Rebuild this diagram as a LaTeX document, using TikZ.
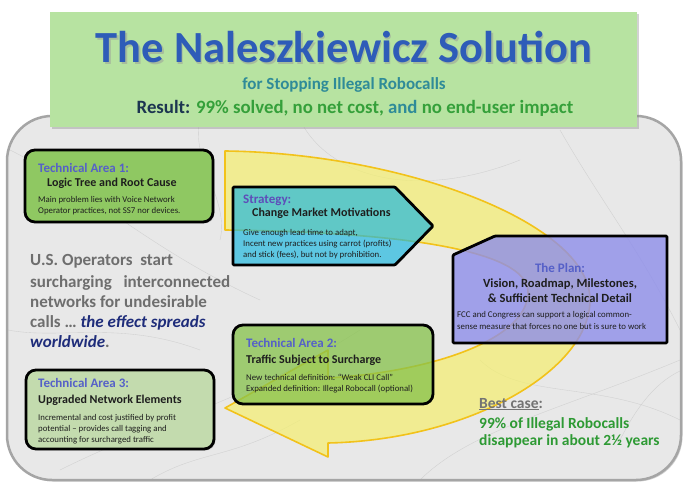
\documentclass[tikz,border=0pt]{standalone}
\usepackage{fontspec}
\setmainfont{Carlito}
\usetikzlibrary{shadows}
\newcommand\myfs[2]{\fontsize{#1}{#2}\selectfont}
\definecolor{marble}{HTML}{E8E8E8}
\definecolor{marbleedge}{HTML}{A5A5A5}
\definecolor{titlegreen}{HTML}{B7E3A1}
\definecolor{titleblue}{HTML}{2E5CB8}
\definecolor{subteal}{HTML}{2F8B98}
\definecolor{navy}{HTML}{1C3550}
\definecolor{resgreen}{HTML}{35A03A}
\definecolor{arrowyellow}{HTML}{F5EF6E}
\definecolor{arrowedge}{HTML}{F2C21A}
\definecolor{labelblue}{HTML}{5560C8}
\definecolor{ta1green}{HTML}{8FC862}
\definecolor{stratcyan}{HTML}{1CB8E0}
\definecolor{planlav}{HTML}{8E8EEA}
\definecolor{ta2green}{HTML}{86C24A}
\definecolor{ta3green}{HTML}{C3DBAE}
\definecolor{leftgray}{HTML}{6E6E6E}
\definecolor{spreadnavy}{HTML}{1E2C7A}
\definecolor{bestgreen}{HTML}{2E9A34}
\definecolor{bodyblack}{HTML}{1E1E1E}
\tikzset{
  boxline/.style={draw=black, line width=2.8pt, line join=round},
  vein/.style={draw=gray!50, line width=0.35pt, opacity=0.6},
  arealabel/.style={anchor=base west, inner sep=0pt, font=\myfs{13}{15}\bfseries, text=labelblue},
  areatitle/.style={anchor=base west, inner sep=0pt, font=\myfs{12}{14}\bfseries, text=bodyblack},
  areabody/.style={anchor=base west, inner sep=0pt, font=\myfs{8.8}{11}, text=bodyblack},
  lefttext/.style={anchor=base west, inner sep=0pt, font=\myfs{17}{20}\bfseries, text=leftgray},
  besttext/.style={anchor=base west, inner sep=0pt, font=\myfs{15.5}{18}\bfseries, text=bestgreen},
}
\begin{document}
\begin{tikzpicture}[x=1pt,y=-1pt]
\useasboundingbox (0,0) rectangle (695,494);
\fill[white] (0,0) rectangle (695,494);

% marble panel
\path[fill=marble, rounded corners=45pt, drop shadow={opacity=0.35, shadow xshift=1.5pt, shadow yshift=-1.5pt}] (7,116) rectangle (681,480);
\begin{scope}
  \clip[rounded corners=45pt] (7,116) rectangle (681,480);
  \draw[vein] (10,150) .. controls (90,190) and (150,250) .. (260,300);
  \draw[vein] (60,470) .. controls (160,420) and (250,400) .. (360,330);
  \draw[vein] (300,120) .. controls (330,180) and (420,200) .. (520,160);
  \draw[vein] (420,480) .. controls (470,430) and (560,410) .. (680,360);
  \draw[vein] (560,130) .. controls (600,200) and (640,250) .. (680,330);
  \draw[vein] (8,330) .. controls (60,340) and (120,320) .. (200,350);
  \draw[vein] (150,480) .. controls (200,450) and (230,460) .. (300,420);
  \draw[vein] (480,360) .. controls (520,400) and (600,380) .. (680,420);
  \draw[vein] (200,120) .. controls (190,160) and (230,200) .. (220,240);
  \draw[vein] (620,440) .. controls (640,400) and (660,380) .. (682,370);
\end{scope}
\path[draw=marbleedge, line width=2.5pt, rounded corners=45pt] (7,116) rectangle (681,480);

% title box
\path[fill=titlegreen, drop shadow={opacity=0.35, shadow xshift=2pt, shadow yshift=-2pt}] (50,12) rectangle (637,127);
\node[anchor=base, inner sep=0pt, font=\myfs{44.5}{50}\bfseries, text=black!40, opacity=0.5] (titleshadow) at (345.5,64.5) {The Naleszkiewicz Solution};
\node[anchor=base, inner sep=0pt, font=\myfs{44.5}{50}\bfseries, text=titleblue] (title) at (344,63) {The Naleszkiewicz Solution};
\node[anchor=base, inner sep=0pt, font=\myfs{17}{20}\bfseries, text=subteal] (subtitle) at (344,90) {for Stopping Illegal Robocalls};
\node[anchor=base, inner sep=0pt, font=\myfs{18.8}{22}\bfseries] (result) at (355,114) {\textcolor{navy}{Result:} \textcolor{resgreen}{99\% solved, no net cost,} \textcolor{subteal}{and} \textcolor{resgreen}{no end-user impact}};

% yellow circular arrow
\path[fill=arrowyellow, fill opacity=0.7, draw=arrowedge, line width=1.6pt, line join=round]
  (225,151) .. controls (400,153) and (590,222) .. (590,300)
  .. controls (590,370) and (470,440) .. (328,443)
  -- (328,457) -- (225,408) -- (328,350) -- (328,378)
  .. controls (430,372) and (528,340) .. (528,292)
  .. controls (528,250) and (400,232) .. (225,230) -- cycle;

% Technical Area 1
\path[boxline, fill=ta1green, rounded corners=10pt, drop shadow={opacity=0.3, shadow xshift=1.5pt, shadow yshift=-1.5pt}] (25,150) rectangle (213,222);
\node[arealabel] (ta1label) at (38,173) {Technical Area 1:};
\node[areatitle] (ta1title) at (47,187) {Logic Tree and Root Cause};
\node[areabody] (ta1b1) at (38,203) {Main problem lies with Voice Network};
\node[areabody] (ta1b2) at (38,214) {Operator practices, not SS7 nor devices.};

% Strategy
\path[boxline, fill=stratcyan, fill opacity=0.68, rounded corners=1pt] (233,187) -- (395,187) -- (433,226) -- (395,265) -- (233,265) -- cycle;
\node[arealabel, text=labelblue!80!violet] (stratlabel) at (243,204) {Strategy:};
\node[areatitle] (strattitle) at (252,217) {Change Market Motivations};
\node[areabody] (stratb1) at (243,235) {Give enough lead time to adapt,};
\node[areabody] (stratb2) at (243,246) {Incent new practices using carrot (profits)};
\node[areabody] (stratb3) at (243,257) {and stick (fees), but not by prohibition.};

% The Plan
\path[boxline, fill=planlav, fill opacity=0.8, rounded corners=1pt] (453,255) -- (495,236) -- (667,236) -- (667,343) -- (453,343) -- cycle;
\node[anchor=base, inner sep=0pt, font=\myfs{13}{15}\bfseries, text=labelblue] (planlabel) at (560,272) {The Plan:};
\node[anchor=base, inner sep=0pt, font=\myfs{12.5}{15}\bfseries, text=bodyblack] (plant1) at (560,287) {Vision, Roadmap, Milestones,};
\node[anchor=base, inner sep=0pt, font=\myfs{12.5}{15}\bfseries, text=bodyblack] (plant2) at (560,302) {\& Sufficient Technical Detail};
\node[areabody] (planb1) at (457,317) {FCC and Congress can support a logical common-};
\node[areabody] (planb2) at (457,329) {sense measure that forces no one but is sure to work};

% Technical Area 2
\path[boxline, fill=ta2green, fill opacity=0.75, rounded corners=10pt] (233,325) rectangle (433,404);
\node[arealabel] (ta2label) at (246,347) {Technical Area 2:};
\node[areatitle] (ta2title) at (246,363) {Traffic Subject to Surcharge};
\node[areabody] (ta2b1) at (246,380) {New technical definition: ``Weak CLI Call''};
\node[areabody] (ta2b2) at (246,391) {Expanded definition: Illegal Robocall (optional)};

% Technical Area 3
\path[boxline, fill=ta3green, rounded corners=10pt, drop shadow={opacity=0.3, shadow xshift=1.5pt, shadow yshift=-1.5pt}] (26,370) rectangle (214,449);
\node[arealabel] (ta3label) at (38,387) {Technical Area 3:};
\node[areatitle] (ta3title) at (38,403) {Upgraded Network Elements};
\node[areabody] (ta3b1) at (38,420) {Incremental and cost justified by profit};
\node[areabody] (ta3b2) at (38,431) {potential -- provides call tagging and};
\node[areabody] (ta3b3) at (38,442) {accounting for surcharged traffic};

% left statement
\node[lefttext] (left1) at (30,265) {U.S. Operators\ \ start};
\node[lefttext] (left2) at (30,287) {\makebox[200pt][s]{surcharging interconnected}};
\node[lefttext] (left3) at (30,307) {networks for undesirable};
\node[lefttext] (left4) at (30,327) {calls \dots\ \textcolor{spreadnavy}{\itshape the effect spreads}};
\node[lefttext] (left5) at (30,347) {\textcolor{spreadnavy}{\itshape worldwide}.};

% best case
\node[besttext, text=gray!90!black] (best1) at (479,408) {\underline{Best case}:};
\node[besttext] (best2) at (479,428) {99\% of Illegal Robocalls};
\node[besttext] (best3) at (479,445) {disappear in about 2½ years};
\end{tikzpicture}
\end{document}
